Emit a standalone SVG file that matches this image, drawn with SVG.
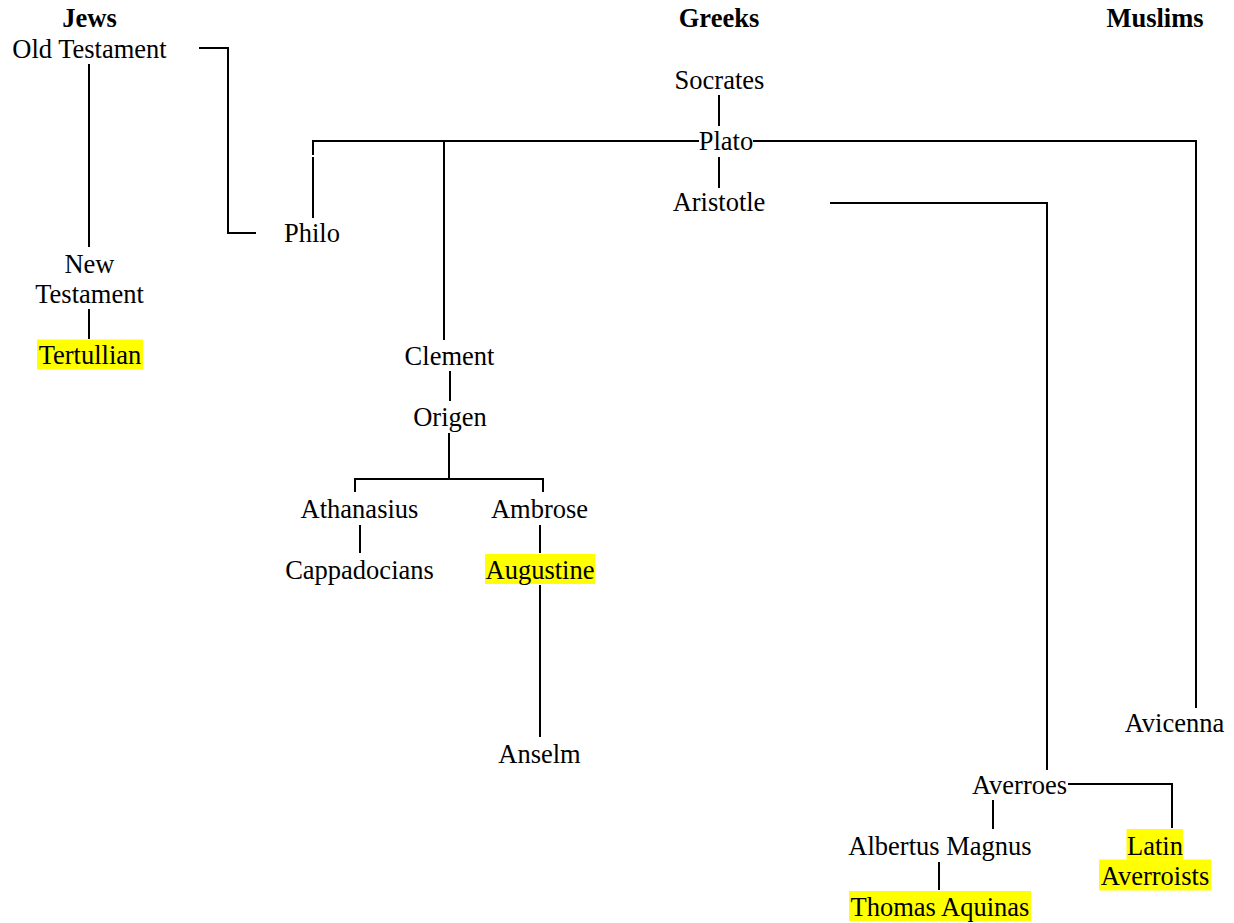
<svg xmlns="http://www.w3.org/2000/svg" width="1234" height="923" viewBox="0 0 1234 923">
<style>
text{font-family:"Liberation Serif","Times New Roman",serif;font-size:26.5px;fill:#000;text-anchor:middle}
.h{font-weight:bold}
.hl{fill:#ffff00}
#connectors path{fill:none;stroke:#000;stroke-width:2}
</style>
<rect width="1234" height="923" fill="#fff"/>
<g id="headers">
<text class="h" x="89.5" y="27">Jews</text>
<text class="h" x="719" y="27">Greeks</text>
<text class="h" x="1155" y="27">Muslims</text>
</g>
<g id="connectors">
<path d="M89 64V247"/>
<path d="M89 309V339"/>
<path d="M199 48H228V233H256"/>
<path d="M719 95V126"/>
<path d="M719 157V188"/>
<path d="M313 155V141H699"/>
<path d="M313 157V218"/>
<path d="M753 141H1196V708"/>
<path d="M444 141V340"/>
<path d="M830 203H1047V770"/>
<path d="M450 371V401"/>
<path d="M449 433V479"/>
<path d="M355 492V479H543V492"/>
<path d="M360 525V553"/>
<path d="M540 525V553"/>
<path d="M540 585V737"/>
<path d="M993 800V829"/>
<path d="M1068 784H1172V828"/>
<path d="M939 862V890"/>
</g>
<g id="old-testament"><text x="89.5" y="57.5">Old Testament</text></g>
<g id="new-testament"><text x="89.5" y="272.5">New</text><text x="89.5" y="303">Testament</text></g>
<g id="tertullian"><rect class="hl" x="37" y="339.5" width="106" height="30"/><text x="90" y="364">Tertullian</text></g>
<g id="socrates"><text x="719.5" y="88.5">Socrates</text></g>
<g id="plato"><text x="726" y="149.5">Plato</text></g>
<g id="aristotle"><text x="719" y="211">Aristotle</text></g>
<g id="philo"><text x="312" y="241.5">Philo</text></g>
<g id="clement"><text x="449.5" y="364.5">Clement</text></g>
<g id="origen"><text x="450" y="425.5">Origen</text></g>
<g id="athanasius"><text x="359.5" y="517.5">Athanasius</text></g>
<g id="ambrose"><text x="539.5" y="517.5">Ambrose</text></g>
<g id="cappadocians"><text x="359.5" y="579">Cappadocians</text></g>
<g id="augustine"><rect class="hl" x="485" y="554" width="110" height="30"/><text x="540" y="578.5">Augustine</text></g>
<g id="anselm"><text x="539.5" y="763">Anselm</text></g>
<g id="avicenna"><text x="1174.5" y="732">Avicenna</text></g>
<g id="averroes"><text x="1019.5" y="793.5">Averroes</text></g>
<g id="albertus-magnus"><text x="940" y="855">Albertus Magnus</text></g>
<g id="latin-averroists"><rect class="hl" x="1126.5" y="829" width="56.5" height="30.5"/><rect class="hl" x="1099" y="859.5" width="112" height="31"/><text x="1155" y="854.5">Latin</text><text x="1155" y="885">Averroists</text></g>
<g id="thomas-aquinas"><rect class="hl" x="849" y="891" width="182" height="30"/><text x="940" y="915.5">Thomas Aquinas</text></g>
</svg>
